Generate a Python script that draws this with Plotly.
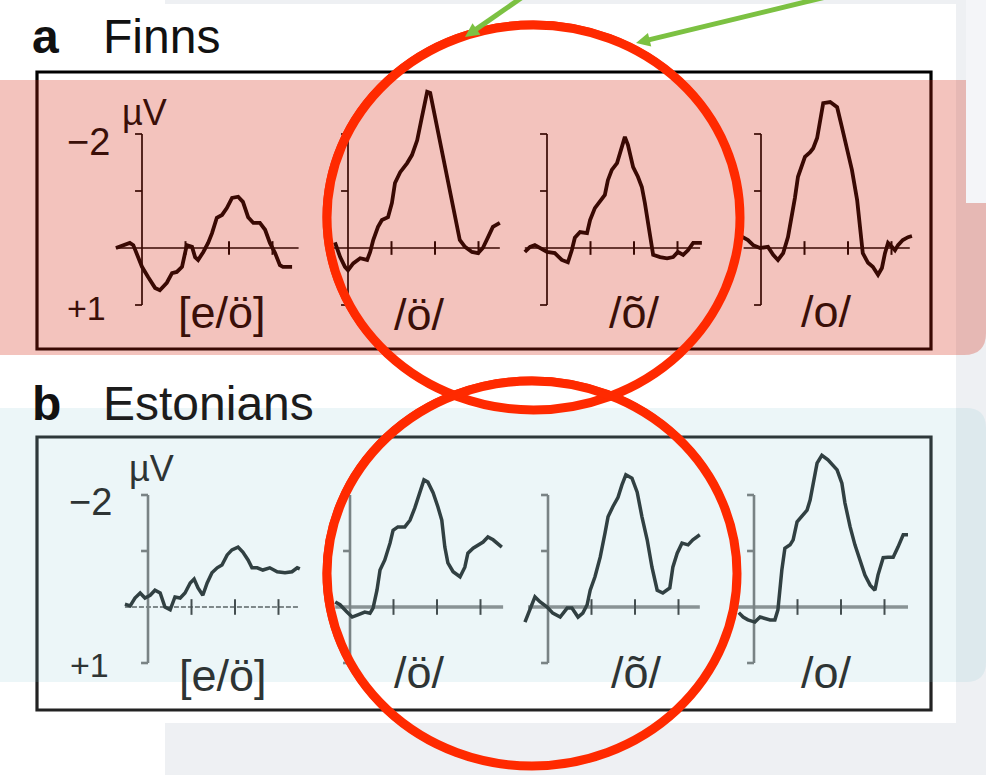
import math
import plotly.graph_objects as go

W, H = 986, 775


def X(px):
    return px / W


def Y(py):
    return 1 - py / H


# ---------------- data (time in ms, amplitude in microvolts; negative = up) ----------------
a1_t = [-60, -28, -20, -9, 0, 14, 30, 41, 57, 69, 80, 92, 99, 103, 115, 122, 129, 141, 152, 161, 172, 184,
        195, 207, 221, 232, 244, 256, 271, 283, 294, 306, 317, 324, 345]
a1_v = [0, -0.09, -0.05, 0.16, 0.33, 0.51, 0.70, 0.74, 0.61, 0.44, 0.42, 0.33, 0.07, -0.05, -0.02, 0.16,
        0.21, 0.07, -0.09, -0.26, -0.53, -0.58, -0.70, -0.88, -0.90, -0.81, -0.54, -0.44, -0.44, -0.32,
        -0.09, 0.09, 0.30, 0.33, 0.33]

a2_t = [-30, -18, -7, 0, 12, 28, 44, 51, 58, 69, 78, 92, 101, 108, 120, 136, 147, 159, 170, 182, 189, 200,
        211, 223, 234, 246, 257, 269, 285, 299, 310, 322, 333, 349]
a2_v = [-0.1, 0.16, 0.33, 0.39, 0.27, 0.18, 0.21, 0.07, -0.14, -0.37, -0.49, -0.54, -0.79, -1.14, -1.33,
        -1.49, -1.63, -1.89, -2.30, -2.74, -2.72, -2.30, -1.89, -1.49, -1.07, -0.61, -0.14, -0.02, 0.07,
        0.09, 0, -0.19, -0.37, -0.44]

a3_t = [-51, -39, -28, -16, 0, 18, 34, 48, 57, 64, 76, 92, 99, 110, 122, 133, 140, 149, 161, 168, 179, 186,
        198, 209, 218, 225, 232, 241, 244, 260, 276, 290, 301, 313, 324, 336, 356]
a3_v = [0.07, -0.02, -0.05, 0, 0.07, 0.09, 0.21, 0.25, 0.04, -0.18, -0.28, -0.26, -0.49, -0.70, -0.81,
        -0.93, -1.19, -1.37, -1.49, -1.68, -1.95, -1.81, -1.42, -1.25, -1.07, -0.79, -0.44, -0.09, 0.12,
        0.16, 0.18, 0.16, 0.07, 0.12, 0.04, -0.09, -0.09]

a4_t = [-44, -30, -18, -2, 16, 28, 39, 51, 62, 71, 78, 85, 94, 101, 113, 120, 129, 136, 143, 159, 175, 186,
        198, 209, 221, 228, 234, 246, 257, 269, 278, 285, 292, 301, 308, 315, 326, 338, 347]
a4_v = [-0.2, -0.14, -0.05, 0, -0.02, 0.12, 0.21, 0.09, -0.19, -0.54, -0.88, -1.25, -1.46, -1.60, -1.68,
        -1.75, -1.93, -2.25, -2.54, -2.56, -2.47, -2.12, -1.75, -1.37, -0.84, -0.37, 0.09, 0.26, 0.33,
        0.47, 0.35, 0.09, -0.09, -0.02, 0.04, -0.05, -0.14, -0.19, -0.21]

b1_t = [-53, -41, -30, -18, -7, 5, 16, 28, 39, 51, 62, 74, 85, 97, 106, 115, 126, 136, 147, 159, 170, 182,
        193, 207, 218, 230, 239, 251, 264, 280, 297, 315, 331, 343, 349]
b1_v = [-0.05, -0.02, -0.16, -0.25, -0.16, -0.21, -0.30, -0.25, 0, 0.05, -0.18, -0.16, -0.25, -0.43,
        -0.50, -0.34, -0.21, -0.43, -0.61, -0.70, -0.75, -0.93, -1.02, -1.07, -0.98, -0.84, -0.70, -0.70,
        -0.66, -0.70, -0.63, -0.61, -0.63, -0.70, -0.68]

b2_t = [-34, -23, -7, 5, 18, 34, 46, 53, 62, 69, 80, 92, 99, 110, 126, 138, 149, 161, 170, 179, 191, 202,
        211, 218, 225, 237, 253, 264, 271, 283, 294, 306, 317, 329, 349]
b2_v = [-0.09, -0.04, 0.09, 0.18, 0.14, 0.09, 0.11, 0.02, -0.30, -0.66, -0.84, -1.14, -1.37, -1.43, -1.43,
        -1.55, -1.77, -2.04, -2.27, -2.23, -2.04, -1.79, -1.55, -1.07, -0.79, -0.63, -0.54, -0.71, -0.96,
        -1.05, -1.11, -1.16, -1.25, -1.20, -1.07]

b3_t = [-53, -41, -30, -18, -2, 11, 28, 44, 55, 69, 80, 90, 97, 108, 120, 131, 138, 149, 161, 170, 179,
        193, 205, 216, 228, 239, 251, 264, 280, 287, 297, 308, 322, 333, 349]
b3_v = [0.27, 0.05, -0.18, -0.09, 0, 0.11, 0.18, 0.02, 0.02, 0.18, 0.11, -0.04, -0.30, -0.54, -0.89,
        -1.32, -1.61, -1.79, -1.96, -2.18, -2.36, -2.30, -2.05, -1.61, -1.20, -0.71, -0.30, -0.25, -0.34,
        -0.71, -0.96, -1.14, -1.11, -1.20, -1.29]

b4_t = [-35, -25, -14, 2, 14, 25, 37, 48, 55, 64, 71, 83, 90, 99, 110, 122, 129, 136, 145, 156, 170, 191,
        202, 209, 221, 232, 244, 255, 267, 278, 285, 297, 308, 320, 331, 343, 354]
b4_v = [0.1, 0.18, 0.23, 0.27, 0.18, 0.20, 0.23, 0.23, 0.05, -0.66, -1.05, -1.11, -1.20, -1.52, -1.61,
        -1.73, -1.91, -2.23, -2.57, -2.71, -2.63, -2.45, -2.21, -1.86, -1.43, -1.11, -0.84, -0.57, -0.39,
        -0.30, -0.57, -0.88, -0.89, -0.89, -1.07, -1.29, -1.29]

conditions = ["[e/ö]", "/ö/", "/õ/", "/o/"]
x_ticks_ms = [100, 200, 300]
y_ticks_uv = [-2, -1, 1]
y_axis_span = [-2, 1]

# baseline extents (ms) of each small time axis
a_base = [(-60, 360), (-34, 349), (-51, 352), (-40, 342)]
b_base = [(-53, 349), (-34, 352), (-46, 349), (-40, 354)]

# ---------------- layout geometry (pixels) ----------------
PX_PER_MS = 0.435
a_axis_px = [142, 348, 547, 761]
b_axis_px = [148, 350, 548, 754]
a_label_px = [(222, 313), (419, 314), (634, 312), (826, 311)]
b_label_px = [(223, 675), (419, 672), (636, 672), (826, 672)]

A_COL = "#000000"
A_TXT = "#3a0f08"
B_COL = "#262c2c"
B_TXT = "#2e3434"
FONT = "Liberation Sans, Arial, sans-serif"

fig = go.Figure()
layout_axes = {}

series = [
    ("a", a1_t, a1_v), ("a", a2_t, a2_v), ("a", a3_t, a3_v), ("a", a4_t, a4_v),
    ("b", b1_t, b1_v), ("b", b2_t, b2_v), ("b", b3_t, b3_v), ("b", b4_t, b4_v),
]

for i, (panel, t, v) in enumerate(series):
    k = i % 4
    axis_px = a_axis_px[k] if panel == "a" else b_axis_px[k]
    base = a_base[k] if panel == "a" else b_base[k]
    L, R = axis_px - 45, axis_px + 170
    xname = "xaxis" if i == 0 else f"xaxis{i + 1}"
    xref = "x" if i == 0 else f"x{i + 1}"
    yref = "y" if panel == "a" else "y2"
    layout_axes[xname] = dict(domain=[X(L), X(R)], range=[(L - axis_px) / PX_PER_MS, (R - axis_px) / PX_PER_MS],
                              visible=False, anchor=yref, fixedrange=True)

    if panel == "a":
        tk = 0.12
        base_kw = dict(color=A_COL, width=1.7)
        vax_kw = dict(color=A_COL, width=1.7)
        tick_kw = dict(color=A_COL, width=2.0)
        wave_kw = dict(color=A_COL, width=3.8)
    else:
        tk = 0.14
        if k == 0:
            base_kw = dict(color="#555555", width=1.6, dash="5px,2px")
        else:
            base_kw = dict(color="#8c8c8c", width=3.6)
        vax_kw = dict(color="#7a7a7a", width=2.6)
        tick_kw = dict(color="#3c3c3c", width=2.0)
        wave_kw = dict(color=B_COL, width=3.5)

    # horizontal time axis
    fig.add_trace(go.Scatter(x=list(base), y=[0, 0], mode="lines", line=base_kw,
                             xaxis=xref, yaxis=yref, hoverinfo="skip", showlegend=False))
    # time ticks
    tx, ty = [], []
    for tt in x_ticks_ms:
        tx += [tt, tt, None]
        ty += [-tk, tk, None]
    fig.add_trace(go.Scatter(x=tx, y=ty, mode="lines", line=tick_kw,
                             xaxis=xref, yaxis=yref, hoverinfo="skip", showlegend=False))
    # vertical amplitude axis with left ticks
    vx, vy = [0, 0, None], [y_axis_span[0], y_axis_span[1], None]
    for yy in y_ticks_uv:
        vx += [-16, 0, None]
        vy += [yy, yy, None]
    fig.add_trace(go.Scatter(x=vx, y=vy, mode="lines", line=vax_kw,
                             xaxis=xref, yaxis=yref, hoverinfo="skip", showlegend=False))
    # waveform
    fig.add_trace(go.Scatter(x=t, y=v, mode="lines", line=wave_kw,
                             xaxis=xref, yaxis=yref, hoverinfo="skip", showlegend=False))

# y axes: microvolts, negative up
a_base_px, a_scale, a_dom = 248, 57.0, (80, 350)
b_base_px, b_scale, b_dom = 607, 56.0, (440, 705)
layout_axes["yaxis"] = dict(domain=[Y(a_dom[1]), Y(a_dom[0])],
                            range=[(a_dom[1] - a_base_px) / a_scale, (a_dom[0] - a_base_px) / a_scale],
                            visible=False, anchor="x", fixedrange=True)
layout_axes["yaxis2"] = dict(domain=[Y(b_dom[1]), Y(b_dom[0])],
                             range=[(b_dom[1] - b_base_px) / b_scale, (b_dom[0] - b_base_px) / b_scale],
                             visible=False, anchor="x5", fixedrange=True)


# ---------------- decoration shapes ----------------
def rect(x0, y0, x1, y1, fill, layer="below", line=None):
    d = dict(type="rect", xref="paper", yref="paper", x0=X(x0), x1=X(x1), y0=Y(y1), y1=Y(y0),
             fillcolor=fill, layer=layer, line=dict(width=0))
    if line:
        d["line"] = line
        d["fillcolor"] = "rgba(0,0,0,0)"
    return d


def P(x, y):
    return f"{X(x):.5f},{Y(y):.5f}"


def band_path(x0, y0, x1, y1, r_top, r_bot):
    s = f"M {P(x0, y0)} L {P(x1 - r_top, y0)} Q {P(x1, y0)} {P(x1, y0 + r_top)} "
    s += f"L {P(x1, y1 - r_bot)} Q {P(x1, y1)} {P(x1 - r_bot, y1)} L {P(x0, y1)} Z"
    return s


shapes = []
# page background pieces
shapes.append(rect(0, 0, 165, 775, "#ffffff"))
shapes.append(rect(0, 4, 956, 723, "#ffffff"))
# frames
shapes.append(rect(37, 72, 931, 349, None, line=dict(color="#000000", width=3.2)))
shapes.append(rect(37, 437, 931, 710, None, line=dict(color="#222222", width=3.2)))
# translucent highlight bands
shapes.append(dict(type="path", xref="paper", yref="paper", path=band_path(-5, 80, 986, 355, 4, 22),
                   fillcolor="rgba(210,35,10,0.27)", line=dict(width=0), layer="above"))
shapes.append(rect(966, -5, 990, 203, "#f4f5f8", layer="above"))
shapes.append(dict(type="path", xref="paper", yref="paper", path=band_path(-5, 408, 986, 682, 20, 20),
                   fillcolor="rgba(120,190,205,0.14)", line=dict(width=0), layer="above"))

# red hand-drawn circles
RED = "#ff2a00"
for (cx0, cy0, cx1, cy1) in [(327, 25, 740, 410), (327, 381, 737, 766)]:
    shapes.append(dict(type="circle", xref="paper", yref="paper", x0=X(cx0), x1=X(cx1),
                       y0=Y(cy1), y1=Y(cy0), line=dict(color=RED, width=9), layer="above"))
    shapes.append(dict(type="circle", xref="paper", yref="paper", x0=X(cx0 - 3), x1=X(cx1 + 2),
                       y0=Y(cy1 + 2), y1=Y(cy0 - 3), line=dict(color=RED, width=3), layer="above"))

# green arrows
GREEN = "#7cc142"
for tail, tip in [((524, -4), (465, 37)), ((830, -4), (636, 43))]:
    dx, dy = tip[0] - tail[0], tip[1] - tail[1]
    Ln = math.hypot(dx, dy)
    ux, uy = dx / Ln, dy / Ln
    hl, hw = 14, 7
    bx, by = tip[0] - hl * ux, tip[1] - hl * uy
    px_, py_ = -uy, ux
    shapes.append(dict(type="line", xref="paper", yref="paper", x0=X(tail[0]), y0=Y(tail[1]),
                       x1=X(bx + 2 * ux), y1=Y(by + 2 * uy), line=dict(color=GREEN, width=5), layer="above"))
    path = f"M {P(*tip)} L {P(bx + hw * px_, by + hw * py_)} L {P(bx - hw * px_, by - hw * py_)} Z"
    shapes.append(dict(type="path", xref="paper", yref="paper", path=path, fillcolor=GREEN,
                       line=dict(width=0), layer="above"))

# ---------------- text ----------------
ann = []


def txt(s, x, y, size, color, xanchor="center"):
    ann.append(dict(text=s, x=X(x), y=Y(y), xref="paper", yref="paper", showarrow=False,
                    xanchor=xanchor, yanchor="middle", font=dict(family=FONT, size=size, color=color)))


txt("<b>a</b>", 30, 37, 48, "#111111", "left")
txt("Finns", 101, 36, 48, "#111111", "left")
txt("<b>b</b>", 30, 403, 48, "#111111", "left")
txt("Estonians", 101, 403, 48, "#1c1c1c", "left")

txt("\u22122", 88, 142, 38, A_TXT)
txt("\u00b5V", 144, 113, 36, A_TXT)
txt("+1", 86, 308, 34, A_TXT)
txt("\u22122", 90, 502, 38, B_TXT)
txt("\u00b5V", 151, 469, 36, B_TXT)
txt("+1", 89, 665, 34, B_TXT)

for k, name in enumerate(conditions):
    txt(name, a_label_px[k][0], a_label_px[k][1], 45, A_TXT)
    txt(name, b_label_px[k][0], b_label_px[k][1], 45, B_TXT)

fig.update_layout(
    width=W, height=H, margin=dict(l=0, r=0, t=0, b=0),
    paper_bgcolor="#eef0f3", plot_bgcolor="rgba(0,0,0,0)",
    shapes=shapes, annotations=ann, showlegend=False,
    **layout_axes,
)

fig.write_html("out.html", config={"displayModeBar": False},
               post_script="document.body.style.margin='0px';document.body.style.overflow='hidden';")
